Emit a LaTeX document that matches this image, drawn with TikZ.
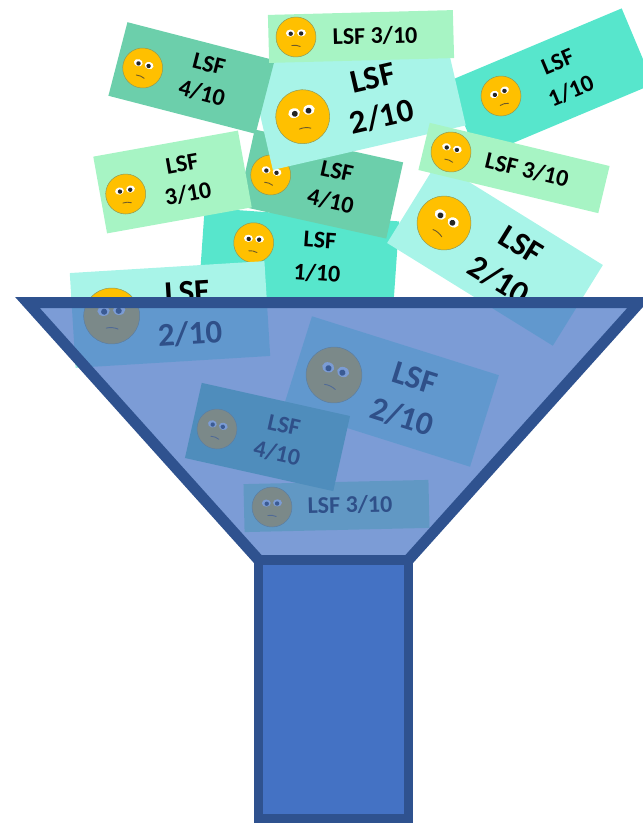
\documentclass[tikz,border=0pt]{standalone}
\usepackage{fontspec}
\setmainfont{Carlito}
\definecolor{cardA}{HTML}{A8F4E8}
\definecolor{cardB}{HTML}{6CCFAB}
\definecolor{cardC}{HTML}{A7F4C4}
\definecolor{cardD}{HTML}{57E6CC}
\definecolor{funnelFill}{HTML}{4472C4}
\definecolor{funnelLine}{HTML}{2F528F}
\definecolor{faceYellow}{HTML}{FFC000}
\definecolor{faceEdge}{HTML}{8C9A5A}
\definecolor{faceMouth}{HTML}{6E5A28}
\tikzset{
  cardbox/.style={rectangle,draw=none,inner sep=0pt,outer sep=0pt},
  smalltext/.style={font=\bfseries\fontsize{24}{28}\selectfont,text=black,inner sep=0pt},
  bigtext/.style={font=\bfseries\fontsize{33}{38}\selectfont,text=black,inner sep=0pt},
  funnelstroke/.style={draw=funnelLine,line width=11pt,line join=miter},
  stemstroke/.style={draw=funnelLine,line width=9pt,line join=miter}
}
% name, x, y, w, h, rotation, colour
\newcommand{\cardbox}[7]{\node[cardbox,fill=#7,minimum width=#4pt,minimum height=#5pt,rotate=#6] (#1) at (#2,#3) {};}
% x, y, radius, rotation
\newcommand{\sadface}[4]{%
  \begin{scope}[shift={(#1,#2)},rotate=#4,scale=#3]
    \fill[faceYellow,draw=faceEdge,line width=.5pt] (0,0) circle [radius=1];
    \fill[white] (-.28,-.2) ellipse [x radius=.22,y radius=.18];
    \fill[white] (.28,-.2) ellipse [x radius=.22,y radius=.18];
    \fill[black!85] (-.26,-.17) circle [radius=.11];
    \fill[black!85] (.26,-.17) circle [radius=.11];
    \draw[faceMouth,line width=.9pt,line cap=round] (-.22,.42) .. controls (-.08,.39) and (.08,.42) .. (.2,.48);
  \end{scope}}
\begin{document}
\begin{tikzpicture}[x=1pt,y=-1pt]
\useasboundingbox (0,0) rectangle (643,823);
\clip (0,0) rectangle (643,823);
% 1/10 centre
\cardbox{c1}{299}{257}{195}{85}{-4}{cardD}
\sadface{253.7}{242.7}{20}{-4}
\node[smalltext,rotate=-4] (t1a) at (320,240) {LSF};
\node[smalltext,rotate=-4] (t1b) at (317,273) {1/10};
% 1/10 right
\cardbox{c2}{550}{83}{190}{82}{22.8}{cardD}
\sadface{501}{96}{20}{22.8}
\node[smalltext,rotate=22.8] (t2a) at (557.7,61.7) {LSF};
\node[smalltext,rotate=22.8] (t2b) at (571,90.7) {1/10};
% 2/10 right
\cardbox{c3}{495}{254}{195}{95}{-31.8}{cardA}
\sadface{444}{223}{27}{-31.8}
\node[bigtext,rotate=-31.8] (t3a) at (521,245) {LSF};
\node[bigtext,rotate=-31.8] (t3b) at (499,280) {2/10};
% 4/10 middle
\cardbox{c4}{320.5}{184}{152}{78}{-12.5}{cardB}
\sadface{270.7}{175}{20}{-12.5}
\node[smalltext,rotate=-12.5] (t4a) at (337,171) {LSF};
\node[smalltext,rotate=-12.5] (t4b) at (330.7,201) {4/10};
% 2/10 centre
\cardbox{c5}{357.5}{96.5}{198}{105}{13}{cardA}
\sadface{302.7}{116.7}{27}{13}
\node[bigtext,rotate=13] (t5a) at (372.7,78) {LSF};
\node[bigtext,rotate=13] (t5b) at (381.7,116.7) {2/10};
% 3/10 left
\cardbox{c6}{172.5}{182}{147}{78}{10.2}{cardC}
\sadface{125.7}{194}{20}{10.2}
\node[smalltext,rotate=10.2] (t6a) at (182,164) {LSF};
\node[smalltext,rotate=10.2] (t6b) at (188,194) {3/10};
% 2/10 left
\cardbox{c7}{170}{314.5}{195}{95}{3.5}{cardA}
\sadface{111.7}{316}{28}{3.5}
\node[bigtext,rotate=3.5] (t7a) at (187,292) {LSF};
\node[bigtext,rotate=3.5] (t7b) at (190,334) {2/10};
% 4/10 top left
\cardbox{c8}{191.5}{78}{152}{76}{-14.5}{cardB}
\sadface{142.7}{68}{20}{-14.5}
\node[smalltext,rotate=-14.5] (t8a) at (209,64) {LSF};
\node[smalltext,rotate=-14.5] (t8b) at (202,93) {4/10};
% 3/10 top
\cardbox{c9}{361}{36.5}{185}{48}{1.5}{cardC}
\sadface{296}{37}{20}{1.5}
\node[smalltext,rotate=1.5] (t9) at (375,36) {LSF 3/10};
% 3/10 right
\cardbox{c10}{514}{168}{185}{48.5}{-13.5}{cardC}
\sadface{451}{152}{20}{-13.5}
\node[smalltext,rotate=-13.5] (t10) at (527,170) {LSF 3/10};
% cards inside the funnel
\cardbox{c11}{391}{391.5}{196}{96}{-17.5}{cardA}
\sadface{334}{375}{28}{-17.5}
\node[bigtext,rotate=-17.5] (t11a) at (415,378) {LSF};
\node[bigtext,rotate=-17.5] (t11b) at (402,417) {2/10};
\cardbox{c12}{336.5}{506}{185}{48}{1.3}{cardC}
\sadface{272}{507}{20}{1.3}
\node[smalltext,rotate=1.3] (t12) at (350,505) {LSF 3/10};
\cardbox{c13}{267.5}{437}{152}{77}{-12.6}{cardB}
\sadface{217}{429}{20}{-12.6}
\node[smalltext,rotate=-12.6] (t13a) at (284,425) {LSF};
\node[smalltext,rotate=-12.6] (t13b) at (277,453) {4/10};
% funnel
\draw[funnelstroke,fill=funnelFill,fill opacity=.7,draw opacity=1]
  (27.4,302.5) -- (259.1,560.5) -- (407.9,560.5) -- (639.6,302.5) -- cycle;
\draw[stemstroke,fill=funnelFill] (258.8,560.5) rectangle (408.5,818.5);
\end{tikzpicture}
\end{document}
